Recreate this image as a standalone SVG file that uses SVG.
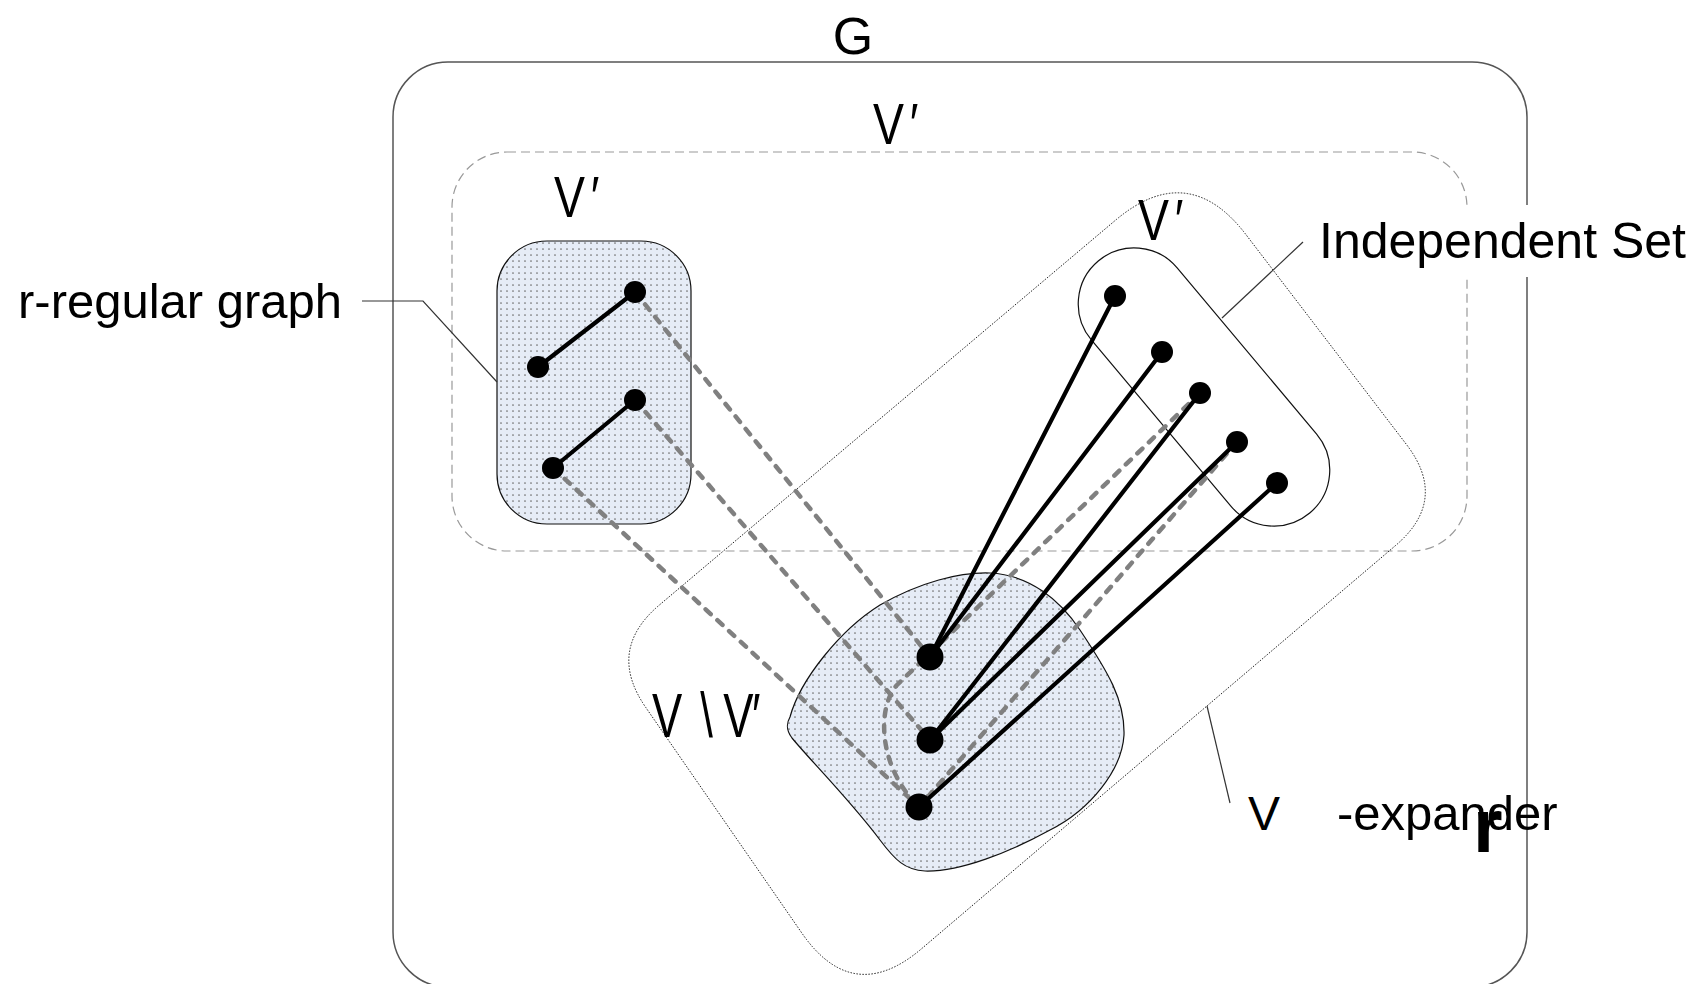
<svg xmlns="http://www.w3.org/2000/svg" width="1698" height="984" viewBox="0 0 1698 984">
<defs>
  <pattern id="dots" width="6" height="6" patternUnits="userSpaceOnUse">
    <rect width="6" height="6" fill="#e6ecf6"/>
    <circle cx="3" cy="3" r="0.85" fill="#6d6d6d"/>
  </pattern>
</defs>
<style>
  .lbl{font-family:"Liberation Sans",Arial,sans-serif;fill:#000}
  .frame{fill:none;stroke:#555;stroke-width:1.5}
  .dash{fill:none;stroke:#999;stroke-width:1.2;stroke-dasharray:9 5}
  .dot{fill:none;stroke:#222;stroke-width:1;stroke-dasharray:1.5 1.5}
  .set{fill:url(#dots);stroke:#111;stroke-width:1.2}
  .pill{fill:none;stroke:#111;stroke-width:1.2}
  .edge{stroke:#000;stroke-width:4.2;fill:none;stroke-linecap:round}
  .cross{stroke:#808080;stroke-width:4.5;fill:none;stroke-dasharray:7 9;stroke-linecap:round}
  .lead{stroke:#333;stroke-width:1.2;fill:none}
  .v{fill:#000}
</style>

<!-- whole graph G -->
<g id="graph-G">
  <rect class="frame" x="393" y="62" width="1134" height="925" rx="55"/>
  <text class="lbl" x="853" y="54" font-size="52" text-anchor="middle">G</text>
</g>

<!-- subset V' (dashed) -->
<g id="subset-V">
  <rect class="dash" x="452" y="152" width="1015" height="399" rx="55"/>
  <text class="lbl" font-size="58" transform="translate(873,144) scale(0.8,1)">V<tspan x="46">′</tspan></text>
</g>

<!-- expander region (dotted) -->
<g id="expander">
  <path class="dot" d="M659.5,604.9 L1115.4,220.3 Q1188,159 1245.8,234.4 L1406.4,444.4 Q1449,500 1395.7,545.4 L921.6,948.7 Q853,1007 801.8,933 L645.8,707.5 Q606,650 659.5,604.9 Z"/>
  <path class="lead" d="M1207,706 L1230,803"/>
  <text class="lbl" x="1248" y="830" font-size="48">V</text>
  <text class="lbl" x="1337" y="830" font-size="49">-expander</text>
  <text class="lbl" x="1473" y="852" font-size="76" font-weight="bold">r</text>
</g>

<!-- r-regular subgraph -->
<g id="r-regular">
  <rect class="set" x="497" y="241" width="194" height="283" rx="50"/>
  <text class="lbl" font-size="58" transform="translate(554,217) scale(0.8,1)">V<tspan x="46">′</tspan></text>
  <path class="lead" d="M362,301 L423,301 L497,382"/>
  <text class="lbl" x="18" y="318" font-size="49">r-regular graph</text>
</g>

<!-- remainder V \ V' -->
<g id="remainder">
  <path class="set" d="M790,717 C800,680 840,630 880,605 C920,582 960,572 990,573 C1030,575 1060,600 1080,630 C1108,672 1125,700 1124,735 C1122,770 1090,810 1050,830 C1010,852 960,872 925,871 C905,870 895,860 880,840 C850,800 810,760 792,738 C786,730 786,724 790,717 Z"/>
  <text class="lbl" font-size="63" transform="translate(652,737) scale(0.72,1)">V<tspan x="67">\</tspan><tspan x="99">V</tspan><tspan x="139">′</tspan></text>
</g>

<!-- independent set -->
<g id="independent-set">
  <rect class="pill" x="-164.5" y="-56" width="329" height="112" rx="56" transform="translate(1204,387) rotate(50)"/>
  <text class="lbl" font-size="58" transform="translate(1138,240) scale(0.8,1)">V<tspan x="46">′</tspan></text>
  <path class="lead" d="M1303,242 L1222,318"/>
  <rect x="1312" y="205" width="386" height="72" fill="#fff"/>
  <text class="lbl" x="1319" y="258" font-size="50">Independent Set</text>
</g>

<!-- connectors -->
<g id="connectors">
  <path class="cross" d="M635,292 L930,657"/>
  <path class="cross" d="M635,400 L930,740"/>
  <path class="cross" d="M553,468 L919,807"/>
  <path class="cross" d="M1237,442 L919,807"/>
  <path class="cross" d="M1200,393 L897,685 C878,705 876,765 919,807"/>
  <path class="edge" d="M635,292 L538,367"/>
  <path class="edge" d="M635,400 L553,468"/>
  <path class="edge" d="M1115,296 L930,657"/>
  <path class="edge" d="M1162,352 L930,657"/>
  <path class="edge" d="M1200,393 L930,740"/>
  <path class="edge" d="M1237,442 L930,740"/>
  <path class="edge" d="M1277,483 L919,807"/>
</g>

<!-- vertices -->
<g id="v-r1"><circle class="v" cx="635" cy="292" r="11"/></g>
<g id="v-r2"><circle class="v" cx="538" cy="367" r="11"/></g>
<g id="v-r3"><circle class="v" cx="635" cy="400" r="11"/></g>
<g id="v-r4"><circle class="v" cx="553" cy="468" r="11"/></g>
<g id="v-i1"><circle class="v" cx="1115" cy="296" r="11"/></g>
<g id="v-i2"><circle class="v" cx="1162" cy="352" r="11"/></g>
<g id="v-i3"><circle class="v" cx="1200" cy="393" r="11"/></g>
<g id="v-i4"><circle class="v" cx="1237" cy="442" r="11"/></g>
<g id="v-i5"><circle class="v" cx="1277" cy="483" r="11"/></g>
<g id="v-b1"><circle class="v" cx="930" cy="657" r="13.5"/></g>
<g id="v-b2"><circle class="v" cx="930" cy="740" r="13.5"/></g>
<g id="v-b3"><circle class="v" cx="919" cy="807" r="13.5"/></g>
</svg>
